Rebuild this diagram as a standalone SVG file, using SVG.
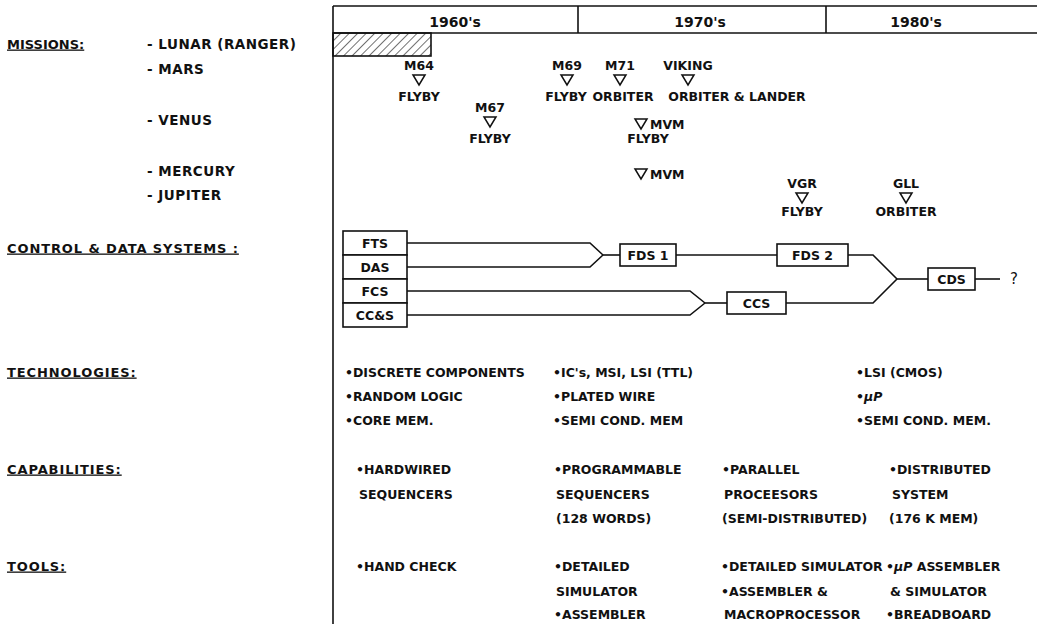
<svg xmlns="http://www.w3.org/2000/svg" width="1037" height="624" viewBox="0 0 1037 624">
<style>
text{font-family:"DejaVu Sans","Liberation Sans",sans-serif;font-weight:bold;font-size:12.5px;fill:#111}
.c{text-anchor:middle}
.h{font-size:14px}
.lab{font-size:13px;text-decoration:underline;letter-spacing:0.9px}
.pl{font-size:13.5px;letter-spacing:0.5px}
.ln{stroke:#111;stroke-width:1.6;fill:none}
.box{fill:#fff;stroke:#111;stroke-width:1.6}
.tri{fill:none;stroke:#111;stroke-width:1.5}
.i{font-style:italic}
</style>
<defs>
<pattern id="hatch" width="6" height="6" patternUnits="userSpaceOnUse" patternTransform="rotate(45)">
<line x1="0" y1="0" x2="0" y2="6" stroke="#111" stroke-width="1.2"/>
</pattern>
<path id="tri" class="tri" d="M-6,-5 L6,-5 L0,5 Z"/>
</defs>

<g id="timeline">
<line class="ln" x1="333" y1="6" x2="1037" y2="6"/>
<line class="ln" x1="333" y1="33" x2="1037" y2="33"/>
<line class="ln" x1="333" y1="6" x2="333" y2="624"/>
<line class="ln" x1="578" y1="6" x2="578" y2="33"/>
<line class="ln" x1="826" y1="6" x2="826" y2="33"/>
<text class="c h" x="455" y="27">1960's</text>
<text class="c h" x="700" y="27">1970's</text>
<text class="c h" x="916" y="27">1980's</text>
<rect x="333" y="33" width="98" height="23" fill="url(#hatch)" stroke="#111" stroke-width="1.6"/>
</g>

<g id="labels">
<text class="lab" x="7" y="48.5" style="letter-spacing:0">MISSIONS:</text>
<text class="lab" x="7" y="252.5">CONTROL &amp; DATA SYSTEMS :</text>
<text class="lab" x="7" y="376.5">TECHNOLOGIES:</text>
<text class="lab" x="7" y="473.5">CAPABILITIES:</text>
<text class="lab" x="7" y="570.5">TOOLS:</text>
<text class="pl" x="147" y="49">- LUNAR (RANGER)</text>
<text class="pl" x="147" y="74">- MARS</text>
<text class="pl" x="147" y="125">- VENUS</text>
<text class="pl" x="147" y="176">- MERCURY</text>
<text class="pl" x="147" y="200">- JUPITER</text>
</g>

<g id="missions">
<g id="m64"><text class="c" x="419" y="69.5">M64</text><use href="#tri" x="419" y="80"/><text class="c" x="419" y="100.5">FLYBY</text></g>
<g id="m67"><text class="c" x="490" y="111.5">M67</text><use href="#tri" x="490" y="122"/><text class="c" x="490" y="142.5">FLYBY</text></g>
<g id="m69"><text class="c" x="567" y="69.5">M69</text><use href="#tri" x="567" y="80"/><text class="c" x="566" y="100.5">FLYBY</text></g>
<g id="m71"><text class="c" x="620" y="69.5">M71</text><use href="#tri" x="620" y="80"/><text class="c" x="623" y="100.5">ORBITER</text></g>
<g id="viking"><text class="c" x="688" y="69.5">VIKING</text><use href="#tri" x="688" y="80"/><text class="c" x="737" y="100.5">ORBITER &amp; LANDER</text></g>
<g id="mvm-venus"><use href="#tri" x="641" y="124"/><text x="650" y="128.5">MVM</text><text class="c" x="648" y="142.5">FLYBY</text></g>
<g id="mvm-mercury"><use href="#tri" x="641" y="174"/><text x="650" y="178.5">MVM</text></g>
<g id="vgr"><text class="c" x="802" y="187.5">VGR</text><use href="#tri" x="802" y="198"/><text class="c" x="802" y="215.5">FLYBY</text></g>
<g id="gll"><text class="c" x="906" y="187.5">GLL</text><use href="#tri" x="906" y="198"/><text class="c" x="906" y="215.5">ORBITER</text></g>
</g>

<g id="connectors">
<path class="ln" d="M407,243 H590 L603,255"/>
<path class="ln" d="M407,267 H590 L603,255"/>
<path class="ln" d="M603,255 H620"/>
<path class="ln" d="M676,255 H777"/>
<path class="ln" d="M848,255 H873 L897,279"/>
<path class="ln" d="M407,291 H690 L705,303"/>
<path class="ln" d="M407,315 H690 L705,303"/>
<path class="ln" d="M705,303 H727"/>
<path class="ln" d="M786,303 H873 L897,279"/>
<path class="ln" d="M897,279 H928"/>
<path class="ln" d="M975,279 H1000"/>
</g>

<g id="FTS"><rect class="box" x="343" y="231" width="64" height="24"/><text class="c" x="375" y="247.5">FTS</text></g>
<g id="DAS"><rect class="box" x="343" y="255" width="64" height="24"/><text class="c" x="375" y="271.5">DAS</text></g>
<g id="FCS"><rect class="box" x="343" y="279" width="64" height="24"/><text class="c" x="375" y="295.5">FCS</text></g>
<g id="CCandS"><rect class="box" x="343" y="303" width="64" height="24"/><text class="c" x="375" y="319.5">CC&amp;S</text></g>
<g id="FDS1"><rect class="box" x="620" y="244" width="56" height="22"/><text class="c" x="648" y="259.5">FDS 1</text></g>
<g id="FDS2"><rect class="box" x="777" y="244" width="71" height="22"/><text class="c" x="812.5" y="259.5">FDS 2</text></g>
<g id="CCS"><rect class="box" x="727" y="292" width="59" height="22"/><text class="c" x="756.5" y="307.5">CCS</text></g>
<g id="CDS"><rect class="box" x="928" y="268" width="47" height="22"/><text class="c" x="951.5" y="283.5">CDS</text></g>
<text x="1010" y="284" style="font-weight:normal;font-size:15px">?</text>

<g id="technologies">
<text x="345" y="376.5">•DISCRETE COMPONENTS</text>
<text x="345" y="400.5">•RANDOM LOGIC</text>
<text x="345" y="424.5">•CORE MEM.</text>
<text x="553" y="376.5">•IC's, MSI, LSI (TTL)</text>
<text x="553" y="400.5">•PLATED WIRE</text>
<text x="553" y="424.5">•SEMI COND. MEM</text>
<text x="856" y="376.5">•LSI (CMOS)</text>
<text x="856" y="400.5">•<tspan class="i">μP</tspan></text>
<text x="856" y="424.5">•SEMI COND. MEM.</text>
</g>

<g id="capabilities">
<text x="356" y="473.5">•HARDWIRED</text>
<text x="359" y="498.5">SEQUENCERS</text>
<text x="554" y="473.5">•PROGRAMMABLE</text>
<text x="556" y="498.5">SEQUENCERS</text>
<text x="556" y="522.5">(128 WORDS)</text>
<text x="722" y="473.5">•PARALLEL</text>
<text x="724" y="498.5">PROCEESORS</text>
<text x="722" y="522.5">(SEMI-DISTRIBUTED)</text>
<text x="889" y="473.5">•DISTRIBUTED</text>
<text x="892" y="498.5">SYSTEM</text>
<text x="889" y="522.5">(176 K MEM)</text>
</g>

<g id="tools">
<text x="356" y="570.5">•HAND CHECK</text>
<text x="554" y="570.5">•DETAILED</text>
<text x="556" y="595.5">SIMULATOR</text>
<text x="554" y="618.5">•ASSEMBLER</text>
<text x="721" y="570.5">•DETAILED SIMULATOR</text>
<text x="721" y="595.5">•ASSEMBLER &amp;</text>
<text x="724" y="618.5">MACROPROCESSOR</text>
<text x="886" y="570.5">•<tspan class="i">μP</tspan> ASSEMBLER</text>
<text x="890" y="595.5">&amp; SIMULATOR</text>
<text x="886" y="618.5">•BREADBOARD</text>
</g>
</svg>
